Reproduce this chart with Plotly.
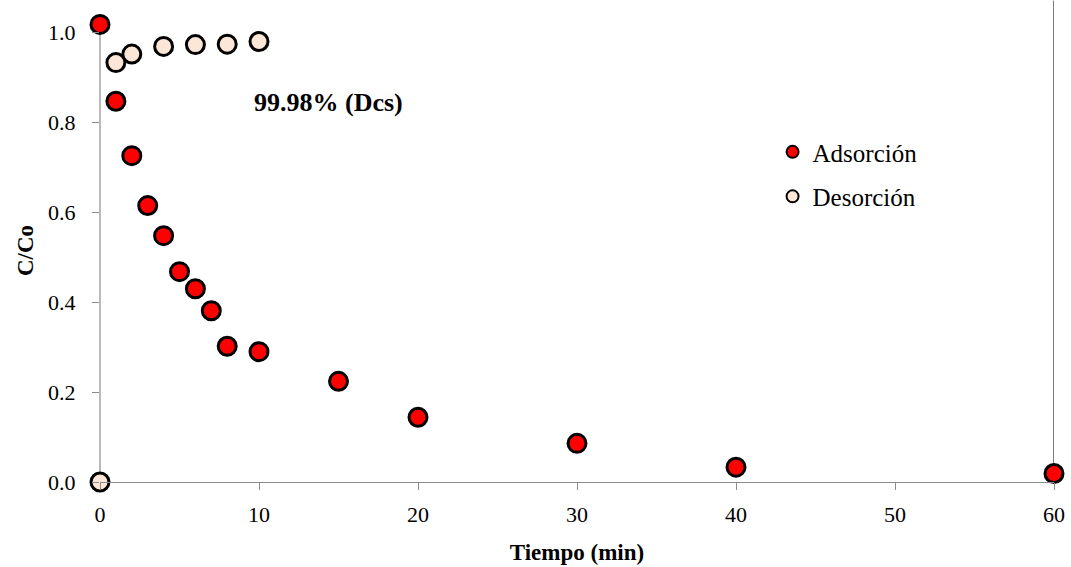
import plotly.graph_objects as go

# Adsorption / desorption kinetics, C/Co versus time
t_ads = [0, 1, 2, 3, 4, 5, 6, 7, 8, 10, 15, 20, 30, 40, 60]
c_ads = [1.018, 0.847, 0.726, 0.615, 0.548, 0.468, 0.430, 0.381, 0.302, 0.290, 0.224, 0.144, 0.086, 0.033, 0.019]

t_des = [0, 1, 2, 4, 6, 8, 10]
c_des = [0.0, 0.933, 0.952, 0.969, 0.973, 0.974, 0.980]

x_ticks = [0, 10, 20, 30, 40, 50, 60]
y_ticks = [0.0, 0.2, 0.4, 0.6, 0.8, 1.0]

FONT = "Liberation Serif, Times New Roman, serif"
AXIS_GREY = "#8c8c8c"
Y_TOP = 1.03  # a little headroom so the first point stays visible

fig = go.Figure()
fig.add_trace(go.Scatter(
    x=t_ads, y=c_ads, mode="markers", name="Adsorción",
    legendgroup="a", cliponaxis=False,
    marker=dict(size=18, color="#ff0000", line=dict(color="#000000", width=3)),
))
fig.add_trace(go.Scatter(
    x=t_des, y=c_des, mode="markers", name="Desorción",
    legendgroup="d", cliponaxis=False,
    marker=dict(size=18, color="#fbe6d8", line=dict(color="#000000", width=3)),
))

fig.add_annotation(
    x=14.35, y=0.844, xref="x", yref="y", text="<b>99.98% (Dcs)</b>",
    showarrow=False, font=dict(family=FONT, size=26, color="#000000"),
)

# left axis line, stopping at 1.0
fig.add_shape(
    type="line", xref="paper", yref="y", x0=0, x1=0, y0=0, y1=1.0,
    line=dict(color=AXIS_GREY, width=1.2), layer="below",
)
# vertical line on the right edge of the plot, running to the top of the page
fig.add_shape(
    type="line", xref="x", yref="paper", x0=60, x1=60, y0=0, y1=1.04,
    line=dict(color="#555555", width=1.5), layer="below",
)

fig.update_layout(
    width=1071, height=567,
    margin=dict(l=100, r=17, t=18.5, b=85, autoexpand=False),
    paper_bgcolor="#ffffff", plot_bgcolor="#ffffff",
    font=dict(family=FONT, size=22, color="#000000"),
    showlegend=True,
    legend=dict(
        x=0.705, y=0.665, xanchor="left", yanchor="middle",
        traceorder="grouped", tracegroupgap=9,
        itemsizing="constant",
        font=dict(family=FONT, size=25, color="#000000"),
        bgcolor="rgba(0,0,0,0)",
    ),
    xaxis=dict(
        range=[0, 60], tickvals=x_ticks, ticktext=[str(v) for v in x_ticks],
        automargin=False,
        showgrid=False, zeroline=False, showline=True,
        linecolor=AXIS_GREY, linewidth=1.2,
        ticks="outside", ticklen=7, tickcolor=AXIS_GREY, tickwidth=1,
        tickfont=dict(family=FONT, size=22), ticklabelstandoff=5,
        title=dict(text="<b>Tiempo (min)</b>", font=dict(family=FONT, size=23), standoff=18),
    ),
    yaxis=dict(
        range=[0, Y_TOP], tickvals=y_ticks, ticktext=[f"{v:.1f}" for v in y_ticks],
        automargin=False,
        showgrid=False, zeroline=False, showline=False,
        ticks="outside", ticklen=7, tickcolor=AXIS_GREY, tickwidth=1,
        tickfont=dict(family=FONT, size=22), ticklabelstandoff=12,
        title=dict(text="<b>C/Co</b>", font=dict(family=FONT, size=23), standoff=8),
    ),
)

fig.write_html("out.html")
